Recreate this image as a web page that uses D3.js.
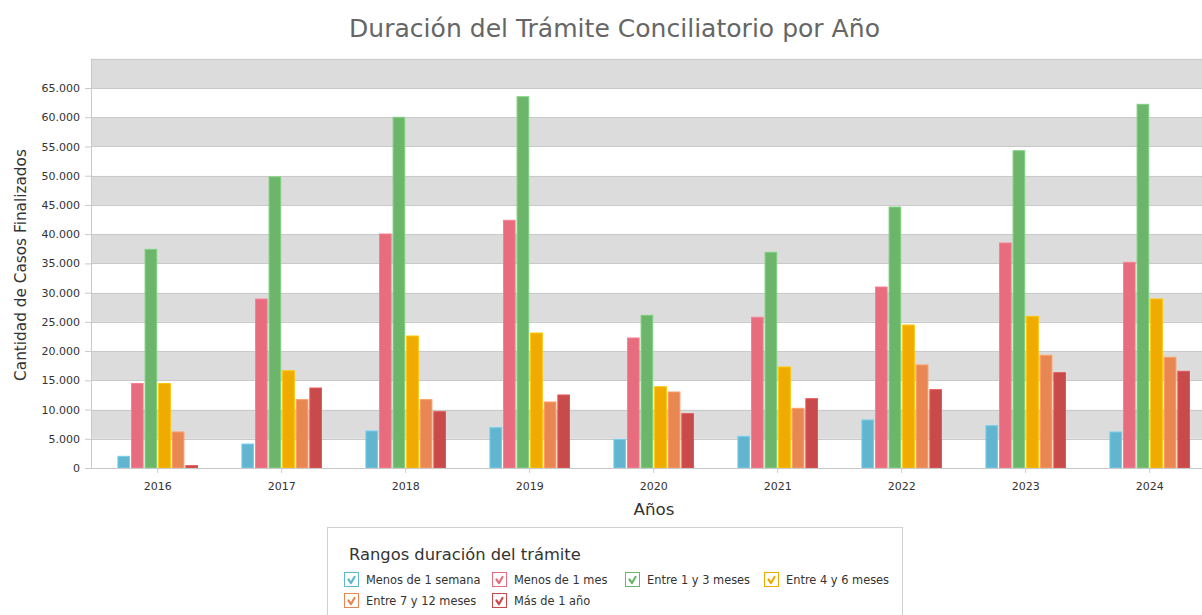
<!DOCTYPE html>
<html><head><meta charset="utf-8">
<script src="https://cdn.jsdelivr.net/npm/d3@7"></script>
<style>
html,body{margin:0;padding:0;background:#fff;overflow:hidden}
svg{display:block;font-family:"DejaVu Sans",Verdana,sans-serif}
</style></head>
<body><svg id="c" width="1202" height="615"></svg>
<script>
const years = ["2016","2017","2018","2019","2020","2021","2022","2023","2024"];
const seriesNames = ["Menos de 1 semana","Menos de 1 mes","Entre 1 y 3 meses","Entre 4 y 6 meses","Entre 7 y 12 meses","Más de 1 año"];
const seriesColors = ["#62b5cf","#e66c7e","#6cb66c","#f0ab00","#e98753","#c84a4a"];
const menos1semana = [2000,4100,6330,6900,4900,5420,8210,7240,6160];
const menos1mes    = [14450,28900,40030,42370,22240,25780,30960,38490,35180];
const entre1y3     = [37400,49800,59990,63510,26110,36890,44640,54280,62210];
const entre4y6     = [14450,16640,22580,23090,13910,17280,24460,25940,28910];
const entre7y12    = [6160,11690,11690,11290,13000,10210,17620,19270,18930];
const mas1anio     = [400,13680,9630,12490,9290,11860,13400,16310,16540];
const seriesValues = [menos1semana,menos1mes,entre1y3,entre4y6,entre7y12,mas1anio];
const yTicks = [0,5000,10000,15000,20000,25000,30000,35000,40000,45000,50000,55000,60000,65000];
const yMax = 70000;

(function(){
const svg = d3.select("#c");
const pL = 91, pR = 1202, pB = 468, pT = 58.8;
const y = d3.scaleLinear().domain([0,yMax]).range([pB, pT]);
const x0 = d3.scaleBand().domain(years).range([95.7, 1211.7]).paddingInner(0.35).paddingOuter(0.175);
const x1 = d3.scaleBand().domain(d3.range(seriesNames.length)).range([0, x0.bandwidth()]).paddingInner(0.07);

function fit(sel, target){
  const n = sel.node(); const fs = parseFloat(sel.attr("font-size"));
  const w = n.getComputedTextLength(); if (w>0) sel.attr("font-size", fs*target/w);
}

// bands
const bands = d3.range(0, yMax, 5000);
svg.append("g").selectAll("rect").data(bands).join("rect")
  .attr("x", pL).attr("width", pR-pL)
  .attr("y", d => y(d+5000)).attr("height", d => y(d)-y(d+5000))
  .attr("fill", d => (d/5000)%2===1 ? "#dcdcdc" : "#ffffff");
// gridlines
svg.append("g").selectAll("line").data(yTicks.concat([yMax])).join("line")
  .attr("x1", pL).attr("x2", pR).attr("y1", d=>Math.round(y(d))+0.5).attr("y2", d=>Math.round(y(d))+0.5)
  .attr("stroke", "#c9c9c9").attr("stroke-width", 1);

// bars
const gYear = svg.append("g").selectAll("g").data(years).join("g")
  .attr("transform", d => `translate(${x0(d)},0)`);
gYear.selectAll("rect").data((d,i) => seriesValues.map((s,k)=>({k, v:s[i]}))).join("rect")
  .attr("x", d => x1(d.k)+0.5).attr("width", x1.bandwidth()-1)
  .attr("y", d => y(d.v)).attr("height", d => pB - y(d.v))
  .attr("fill", d => seriesColors[d.k])
  .attr("stroke", d => d3.color(seriesColors[d.k]).brighter(0.4)).attr("stroke-width", 1);

// y axis
const ya = svg.append("g").attr("transform", `translate(${pL},0)`)
  .call(d3.axisLeft(y).tickValues(yTicks).tickSize(6).tickPadding(5)
    .tickFormat(d => d3.format(",")(d).replace(/,/g, ".")));
ya.select(".domain").attr("stroke", "#c9c9c9").attr("d", `M0.5,${pT}V${pB}`);
ya.selectAll(".tick line").attr("stroke", "#c9c9c9");
ya.selectAll(".tick text").attr("font-size", 11).attr("fill", "#333").attr("font-family", "DejaVu Sans");

// x axis
const xa = svg.append("g").attr("transform", `translate(0,${pB})`)
  .call(d3.axisBottom(x0).tickSize(5).tickPadding(9));
xa.select(".domain").attr("stroke", "#c9c9c9").attr("d", `M${pL},0.5H${pR}`);
xa.selectAll(".tick line").attr("stroke", "#c9c9c9");
xa.selectAll(".tick text").attr("font-size", 11).attr("fill", "#333").attr("font-family", "DejaVu Sans");

// title
const t = svg.append("text").attr("x", 614.5).attr("y", 37).attr("text-anchor","middle")
  .attr("font-size", 24).attr("fill", "#666").text("Duración del Trámite Conciliatorio por Año");
fit(t, 531);
// axis titles
const yt = svg.append("text").attr("transform", "translate(26,265) rotate(-90)").attr("text-anchor","middle")
  .attr("font-size", 17).attr("fill", "#333").text("Cantidad de Casos Finalizados");
fit(yt, 232);
const xt = svg.append("text").attr("x", 654).attr("y", 515).attr("text-anchor","middle")
  .attr("font-size", 17).attr("fill", "#333").text("Años");
fit(xt, 41);

// legend
const lg = svg.append("g");
lg.append("rect").attr("x", 327.5).attr("y", 527.5).attr("width", 575).attr("height", 100)
  .attr("fill", "#fff").attr("stroke", "#d0d0d0");
const lt = lg.append("text").attr("x", 349).attr("y", 560).attr("font-size", 17).attr("fill", "#333")
  .text("Rangos duración del trámite");
fit(lt, 232);
const itemPos = [[344,580],[492,580],[625,580],[764,580],[344,601],[492,601]];
const items = lg.selectAll("g.item").data(seriesNames).join("g").attr("class","item")
  .attr("transform", (d,i) => `translate(${itemPos[i][0]},${itemPos[i][1]})`);
items.append("rect").attr("x", 0.5).attr("y", -7.5).attr("width", 14).attr("height", 14)
  .attr("fill", "#fff").attr("stroke", (d,i) => seriesColors[i]).attr("stroke-width", 1);
items.append("path").attr("d", "M4.5,-0.5 L7,3 L10.5,-3").attr("fill","none")
  .attr("stroke", (d,i) => seriesColors[i]).attr("stroke-width", 2.2).attr("stroke-linecap","round").attr("stroke-linejoin","round");
items.append("text").attr("x", 22).attr("y", 4).attr("font-size", 11.4).attr("fill", "#333").text(d => d);
})();
</script></body></html>
